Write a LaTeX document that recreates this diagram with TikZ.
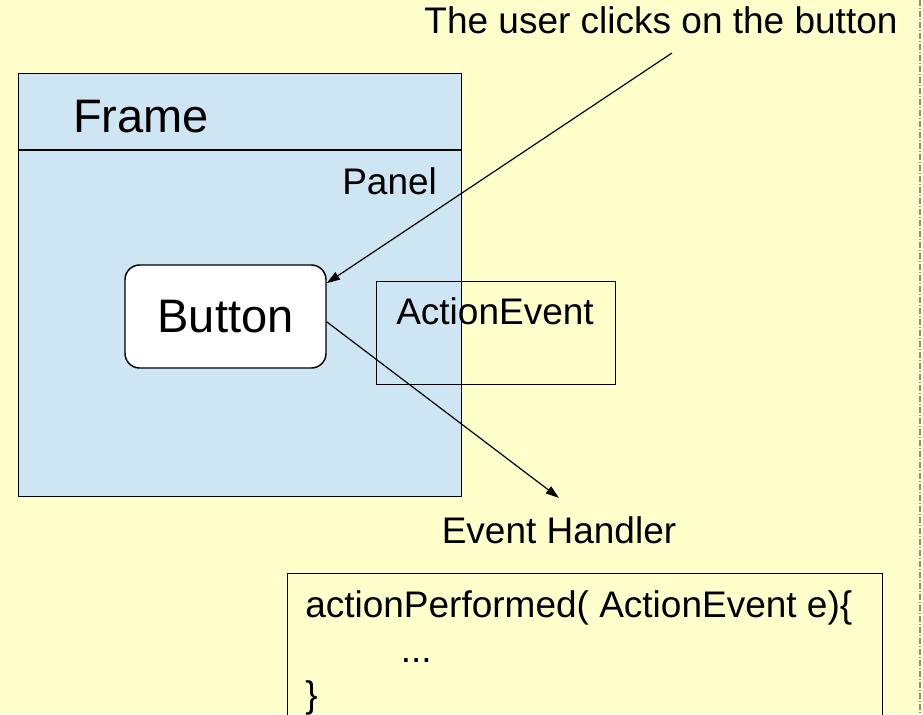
\documentclass[tikz,border=0pt]{standalone}
\usepackage{fontspec}
\setmainfont{Liberation Sans}
\usepackage{tikz}
\usetikzlibrary{arrows.meta,calc,positioning}
\definecolor{zeminSari}{HTML}{FFFFCC}
\definecolor{panelMavi}{HTML}{CEE5F3}
\definecolor{cizgiGri}{HTML}{8C8C8C}

\begin{document}
\begin{tikzpicture}[x=0.75pt,y=-0.75pt,
  txtSmall/.style={font=\fontsize{27.75pt}{33pt}\selectfont, inner sep=0pt},
  txtBig/.style={font=\fontsize{35.25pt}{42pt}\selectfont, inner sep=0pt},
  kutu/.style={draw=black, line width=1.1pt, inner sep=0pt},
  ok/.style={-{Triangle[length=10pt,width=6.5pt]}, line width=0.9pt}]
\useasboundingbox (0,0) rectangle (923,714);
\fill[zeminSari] (0,0) rectangle (923,714);
\clip (0,0) rectangle (923,714);
\draw[cizgiGri,line width=0.9pt,dash pattern=on 4.5pt off 1.5pt on 0.75pt off 1.5pt] (920,0) -- (920,714);
% frame and panel
\node[kutu,fill=panelMavi,minimum width=332.25pt,minimum height=317.25pt,anchor=north west] (frame) at (18,73) {};
\draw[line width=1.1pt] (18,150) -- (461,150);
\node[txtBig,anchor=base west] (frameText) at (73,132) {Frame};
\node[txtSmall,anchor=base west] (panelText) at (342,194) {Panel};
\node[kutu,txtBig,fill=white,rounded corners=11pt,minimum width=150.75pt,minimum height=77.25pt] (button) at (225.5,316.5) {Button};
% event object
\node[kutu,minimum width=179.25pt,minimum height=77.25pt,anchor=north west] (eventBox) at (376,281) {};
\node[txtSmall,anchor=base west] (eventText) at (396,324) {ActionEvent};
% texts and arrows
\node[txtSmall,anchor=base] (clickText) at (661,33) {The user clicks on the button};
\coordinate (clickPt) at (672,53);
\node[txtSmall,anchor=base] (handler) at (559,543) {Event Handler};
\draw[ok] (clickPt) -- ([yshift=25pt]button.east);
\draw[ok] ([yshift=-4pt]button.east) -- ([yshift=13.5pt]handler.north);
% handler code
\node[kutu,minimum width=446.25pt,minimum height=150pt,anchor=north west] (codeBox) at (287,573) {};
\node[txtSmall,anchor=base west] (codeLine) at (305,617) {actionPerformed( ActionEvent e)\{};
\node[txtSmall,anchor=base west] (codeDots) at (400.5,662) {...};
\node[txtSmall,anchor=base west] (codeEnd) at (305,707) {\}};
\end{tikzpicture}
\end{document}
